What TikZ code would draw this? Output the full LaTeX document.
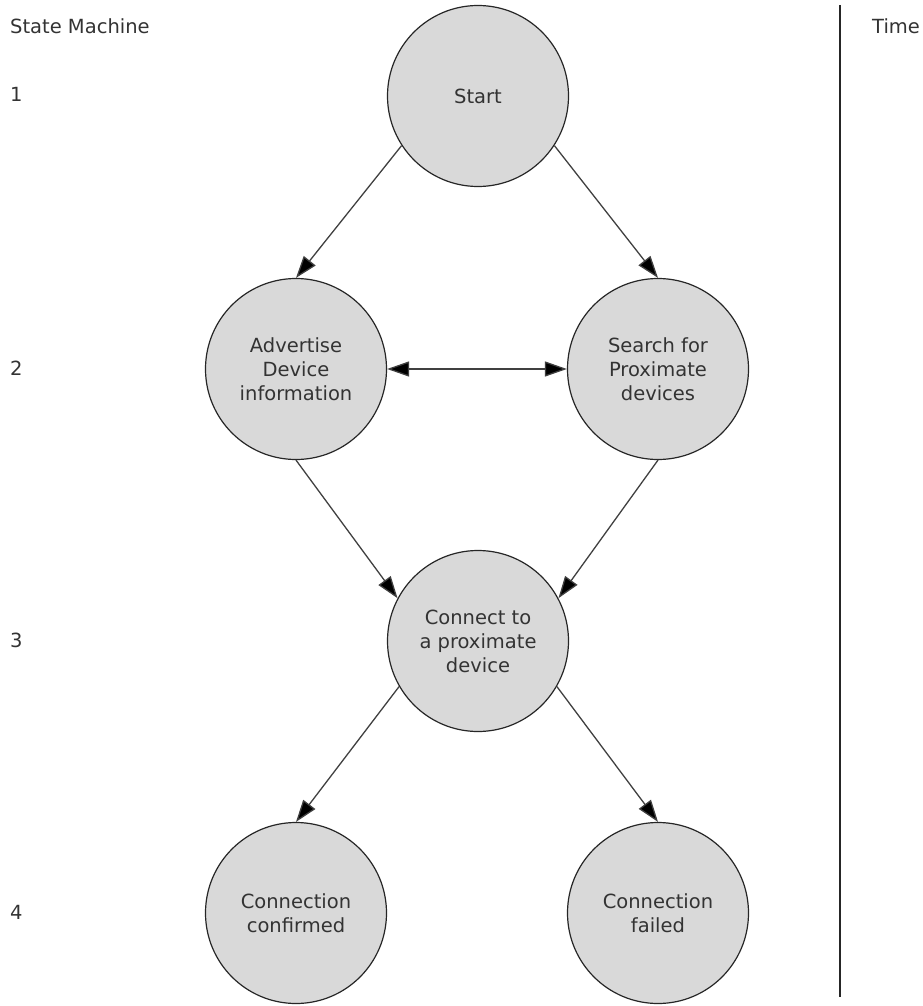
\documentclass[tikz,border=0pt]{standalone}
\usepackage{fontspec}
\setmainfont{DejaVu Sans}
\usetikzlibrary{positioning,arrows.meta}

\begin{document}
\begin{tikzpicture}[
    x=1pt, y=-1pt,
    on grid,
    every node/.style={font=\fontsize{19.5}{24}\selectfont, text=black!80},
    state/.style={draw=black!85, line width=1.2pt, circle, fill=gray!30, minimum size=181pt, inner sep=0pt, align=center},
    caption/.style={anchor=base west, inner sep=0pt},
    link/.style={-{Triangle[length=22pt,width=15pt,fill=black]}, line width=1.3pt, draw=black!75},
    duplex/.style={{Triangle[length=22pt,width=15pt,fill=black]}-{Triangle[length=22pt,width=15pt,fill=black]}, line width=1.3pt, draw=black!75}
]
\useasboundingbox (0,0) rectangle (923,1006);

% Titres et niveaux
\node[caption] (machine) at (10,34) {State Machine};
\node[caption] (time) at (872,34) {Time};
\node[caption] (lvlone) at (10,102) {1};
\node[caption] (lvltwo) at (10,375) {2};
\node[caption] (lvlthree) at (10,647) {3};
\node[caption] (lvlfour) at (10,919) {4};

% Axe du temps
\coordinate (timetop) at (840,5);
\coordinate (timebot) at (840,997);
\draw[line width=2.4pt, black!85] (timetop) -- (timebot);

% Etats
\node[state] (start) at (478,96) {Start};

\node[state, below left=273pt and 182pt of start] (advertise) {Advertise\\ Device\\ information};

\node[state, below right=273pt and 180pt of start] (search) {Search for\\ Proximate\\ devices};

\node[state, below=545pt of start] (connect) {Connect to\\ a proximate\\ device};

\node[state, below left=272pt and 182pt of connect] (confirmed) {Connection\\ confirmed};

\node[state, below right=272pt and 180pt of connect] (failed) {Connection\\ failed};

% Transitions
\draw[link] (start.213) -- (advertise.north);
\draw[link] (start.-33) -- (search.north);
\draw[duplex] (advertise.east) -- (search.west);
\draw[link] (advertise.south) -- (connect.152);
\draw[link] (search.south) -- (connect.28);
\draw[link] (connect.210) -- (confirmed.north);
\draw[link] (connect.-30) -- (failed.north);

\end{tikzpicture}
\end{document}
